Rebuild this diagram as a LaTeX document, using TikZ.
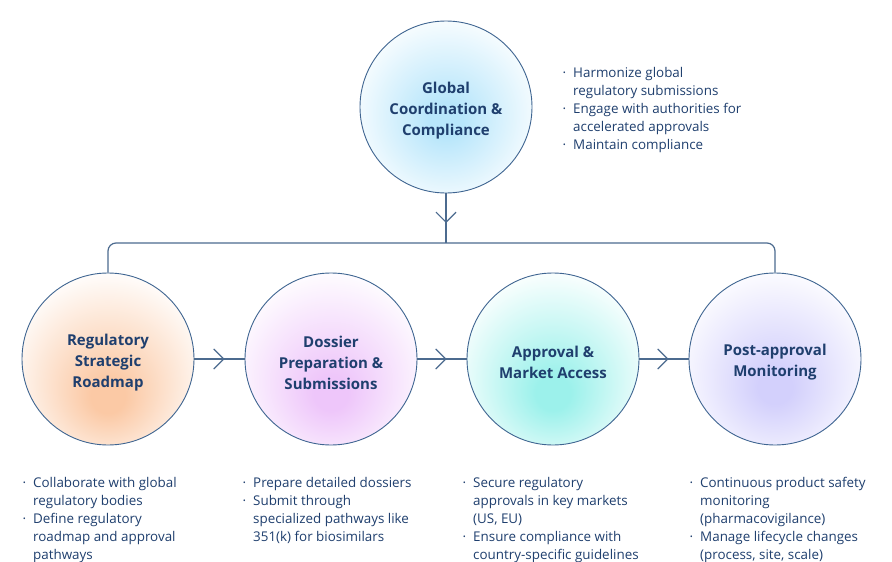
\documentclass[tikz,border=0pt]{standalone}
\usepackage{fontspec}
\setmainfont{Open Sans}
\usetikzlibrary{arrows.meta,decorations.markings}
\definecolor{txt}{HTML}{1F3F6E}
\definecolor{ring}{HTML}{3F6591}
\definecolor{connc}{HTML}{4C6B8F}
\definecolor{cblue}{HTML}{B8E6FB}
\definecolor{cpeach}{HTML}{FBC9A5}
\definecolor{cpink}{HTML}{EEC6FA}
\definecolor{ccyan}{HTML}{9CF1EB}
\definecolor{clav}{HTML}{D3D0FC}
\pgfdeclareradialshading{shblue}{\pgfpoint{0bp}{-4bp}}{color(0bp)=(cblue); color(5bp)=(cblue); color(30bp)=(white); color(50bp)=(white)}
\pgfdeclareradialshading{shpeach}{\pgfpoint{0bp}{-12bp}}{color(0bp)=(cpeach); color(5bp)=(cpeach); color(31bp)=(white); color(50bp)=(white)}
\pgfdeclareradialshading{shpink}{\pgfpoint{0bp}{-11bp}}{color(0bp)=(cpink); color(5bp)=(cpink); color(31bp)=(white); color(50bp)=(white)}
\pgfdeclareradialshading{shcyan}{\pgfpoint{0bp}{-11bp}}{color(0bp)=(ccyan); color(5bp)=(ccyan); color(31bp)=(white); color(50bp)=(white)}
\pgfdeclareradialshading{shlav}{\pgfpoint{0bp}{-9bp}}{color(0bp)=(clav); color(5bp)=(clav); color(31bp)=(white); color(50bp)=(white)}
\newcommand\bul{\llap{·\hspace{7pt}}}
\tikzset{
  stage/.style={circle, draw=ring, line width=0.9pt, minimum size=172pt, inner sep=0pt},
  title/.style={align=center, text=txt, inner sep=0pt, font=\bfseries\fontsize{15}{21}\selectfont},
  conn/.style={draw=connc, line width=1.2pt},
  chevron/.style={postaction={decorate}, decoration={markings,
    mark=at position -20pt with {\arrow[connc, line width=1.2pt]{Straight Barb[length=10pt,width=20pt]}}}},
  blist/.style={anchor=north west, inner sep=0pt, align=left, text=txt,
    font=\fontsize{13.4}{18}\selectfont}
}
\begin{document}
\begin{tikzpicture}[x=1pt,y=-1pt]
\fill[white] (0,0) rectangle (892,562);
\useasboundingbox (0,0) rectangle (892,562);

\node[stage, shading=shblue] (g) at (446,107) {};
\node[stage, shading=shpeach] (s1) at (108,359) {};
\node[stage, shading=shpink] (s2) at (331,359) {};
\node[stage, shading=shcyan] (s3) at (553,359) {};
\node[stage, shading=shlav] (s4) at (775,359) {};

\node[title] (tg) at ([yshift=-3.5pt]g.center) {Global\\Coordination \&\\Compliance};
\node[title] (t1) at ([yshift=-3.5pt]s1.center) {Regulatory\\Strategic\\Roadmap};
\node[title] (t2) at ([yshift=-3.5pt]s2.center) {Dossier\\Preparation \&\\Submissions};
\node[title] (t3) at ([yshift=-3.5pt]s3.center) {Approval \&\\Market Access};
\node[title] (t4) at ([yshift=-3.5pt]s4.center) {Post-approval\\Monitoring};

\coordinate (bl) at (108,243);
\coordinate (br) at (775,243);
\draw[conn, rounded corners=8pt] (s1.north) -- (bl) -- (br) -- (s4.north);
\draw[conn, chevron] (g.south) -- (g.south |- bl);

\draw[conn, chevron] (s1.east) -- (s2.west);
\draw[conn, chevron] (s2.east) -- (s3.west);
\draw[conn, chevron] (s3.east) -- (s4.west);

\node[blist] (lg) at (573,67) {\bul Harmonize global\\regulatory submissions\\\bul Engage with authorities for\\accelerated approvals\\\bul Maintain compliance};
\node[blist] (l1) at (33,477) {\bul Collaborate with global\\regulatory bodies\\\bul Define regulatory\\roadmap and approval\\pathways};
\node[blist] (l2) at (253,477) {\bul Prepare detailed dossiers\\\bul Submit through\\specialized pathways like\\351(k) for biosimilars};
\node[blist] (l3) at (473,477) {\bul Secure regulatory\\approvals in key markets\\(US, EU)\\\bul Ensure compliance with\\country-specific guidelines};
\node[blist] (l4) at (700,477) {\bul Continuous product safety\\monitoring\\(pharmacovigilance)\\\bul Manage lifecycle changes\\(process, site, scale)};
\end{tikzpicture}
\end{document}
